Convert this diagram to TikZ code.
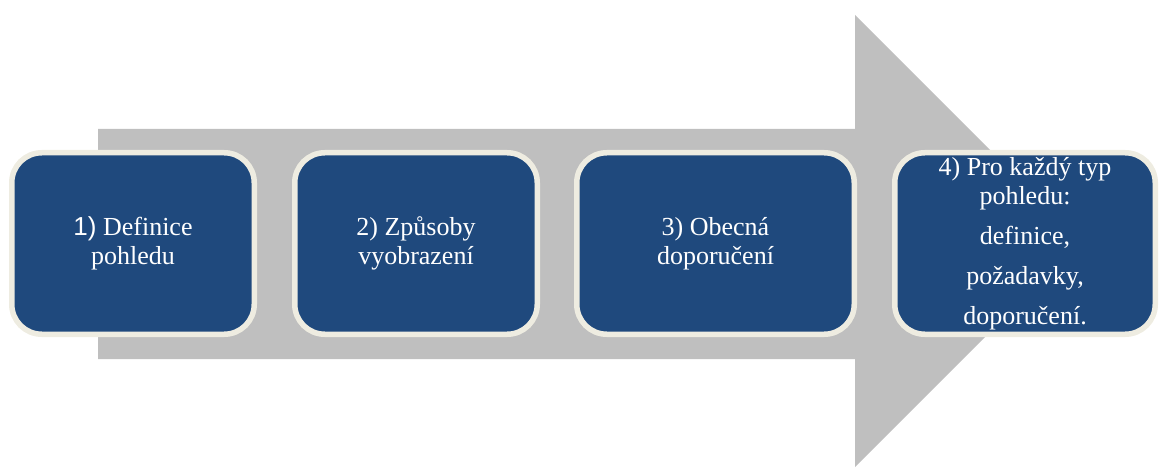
\documentclass[tikz,border=0pt]{standalone}
\usepackage{fontspec}
\setmainfont{Liberation Serif}
\newfontfamily\numfont{Liberation Sans}
\usetikzlibrary{positioning}
\definecolor{stepblue}{HTML}{1F497D}
\definecolor{stepcream}{HTML}{EEECE1}
\definecolor{arrowgray}{HTML}{BFBFBF}

\begin{document}
\begin{tikzpicture}[x=1pt, y=-1pt, node distance=35pt, every node/.style={font=\fontsize{26}{29}\selectfont}]

  % Define styles
  \tikzstyle{stepbox} = [rectangle, rounded corners=30pt, minimum height=181.5pt, inner sep=2pt, align=center, text=white, fill=stepblue, draw=stepcream, line width=5.5pt]

  \useasboundingbox (0,0) rectangle (1159,468);

  % Big arrow behind the steps
  \fill [arrowgray] (98,129) -- (855,129) -- (855,15) -- (1081,241) -- (855,467) -- (855,359) -- (98,359) -- cycle;

  % Place nodes
  \node [stepbox, minimum width=242.5pt] (definice) at (133,243.5) {{\numfont 1)} Definice\\pohledu};
  \node [stepbox, minimum width=242.5pt, right=of definice] (zpusoby) {2) Způsoby\\vyobrazení};
  \node [stepbox, minimum width=277.5pt, right=34pt of zpusoby] (obecna) {3) Obecná\\doporučení};
  \node [stepbox, minimum width=260.5pt, right=of obecna] (typ) {4) Pro každý typ\\pohledu:\\[11pt]definice,\\[11pt]požadavky,\\[11pt]doporučení.};

\end{tikzpicture}
\end{document}
